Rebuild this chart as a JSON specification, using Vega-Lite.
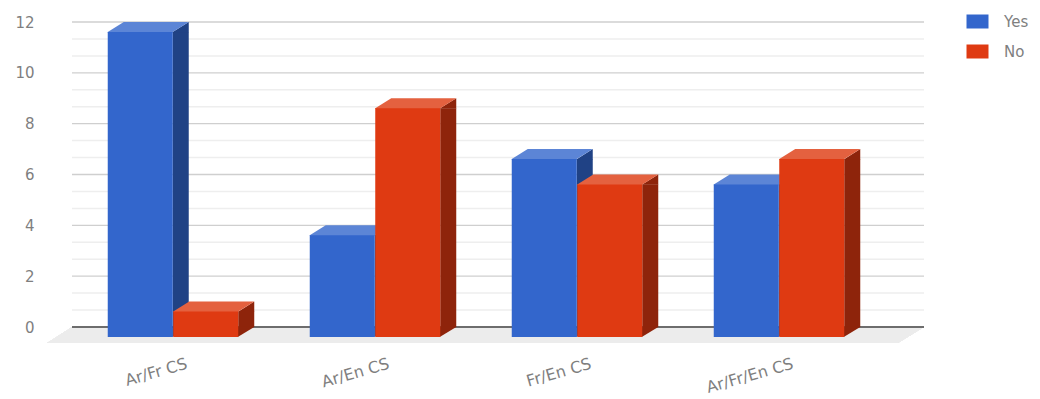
{
  "$schema": "https://vega.github.io/schema/vega-lite/v6.json",
  "autosize": "none",
  "padding": {"left": 72, "top": 22, "right": 116, "bottom": 72},
  "width": 852,
  "height": 305,
  "background": "white",
  "config": {"view": {"stroke": null}, "font": "DejaVu Sans"},
  "datasets": {
    "answers": [
      {"group": "Ar/Fr CS", "answer": "Yes", "count": 12},
      {"group": "Ar/Fr CS", "answer": "No", "count": 1},
      {"group": "Ar/En CS", "answer": "Yes", "count": 4},
      {"group": "Ar/En CS", "answer": "No", "count": 9},
      {"group": "Fr/En CS", "answer": "Yes", "count": 7},
      {"group": "Fr/En CS", "answer": "No", "count": 6},
      {"group": "Ar/Fr/En CS", "answer": "Yes", "count": 6},
      {"group": "Ar/Fr/En CS", "answer": "No", "count": 7}
    ],
    "majorLevels": [
      {"level": 2}, {"level": 4}, {"level": 6}, {"level": 8}, {"level": 10}, {"level": 12}
    ],
    "minorLevels": [
      {"level": 0.667}, {"level": 1.333}, {"level": 2.667}, {"level": 3.333},
      {"level": 4.667}, {"level": 5.333}, {"level": 6.667}, {"level": 7.333},
      {"level": 8.667}, {"level": 9.333}, {"level": 10.667}, {"level": 11.333}
    ]
  },
  "data": {"name": "answers"},
  "resolve": {"scale": {"xOffset": "independent"}},
  "layer": [
    {
      "description": "floor plane and value axis",
      "mark": {"type": "point", "filled": true, "opacity": 1, "size": 4, "strokeWidth": 0, "color": "#ececec",
        "shape": "M-426,0L426,0L400,16L-451,16Z"},
      "encoding": {
        "y": {
          "datum": 0,
          "type": "quantitative",
          "title": null,
          "scale": {"domain": [0, 12], "nice": false},
          "axis": {
            "title": null,
            "values": [0, 2, 4, 6, 8, 10, 12],
            "domain": false,
            "ticks": false,
            "grid": false,
            "labelPadding": 38,
            "labelFontSize": 15,
            "labelColor": "#7f7f7f"
          }
        }
      }
    },
    {
      "description": "lighter gridlines between the labelled levels",
      "data": {"name": "minorLevels"},
      "mark": {"type": "rule", "color": "#eeeeee", "strokeWidth": 1.5},
      "encoding": {"y": {"field": "level", "type": "quantitative", "title": null}}
    },
    {
      "description": "gridlines at the labelled levels",
      "data": {"name": "majorLevels"},
      "mark": {"type": "rule", "color": "#cfcfcf", "strokeWidth": 1.3},
      "encoding": {"y": {"field": "level", "type": "quantitative", "title": null}}
    },
    {
      "mark": {"type": "rule", "color": "#6e6e6e", "strokeWidth": 1.5},
      "encoding": {"y": {"datum": 0, "type": "quantitative", "title": null}}
    },
    {
      "description": "side face: the rectangular middle of each parallelogram",
      "mark": {"type": "bar", "width": 16, "yOffset": 10, "y2Offset": 0},
      "encoding": {
        "x": {
          "field": "group",
          "type": "nominal",
          "sort": null,
          "title": null,
          "scale": {"range": [0, 808], "paddingInner": 0.3515, "paddingOuter": 0.1757},
          "axis": {
            "title": null,
            "domain": false,
            "ticks": false,
            "grid": false,
            "labelAngle": -16,
            "labelAlign": "right",
            "labelBaseline": "middle",
            "labelOffset": 14,
            "labelPadding": 36,
            "labelFontSize": 16,
            "labelColor": "#7f7f7f"
          }
        },
        "xOffset": {"field": "answer", "type": "nominal", "sort": ["Yes", "No"], "scale": {"range": [40.5, 171.5]}},
        "y": {"field": "count", "type": "quantitative", "title": null},
        "y2": {"datum": 0},
        "fill": {"condition": {"test": "datum.answer === 'Yes'", "value": "#204285"}, "value": "#8e240b"}
      }
    },
    {
      "description": "side face: upper triangle",
      "mark": {"type": "point", "filled": true, "opacity": 1, "size": 4, "strokeWidth": 0,
        "shape": "M32,10.3L48.5,0L48.5,10.3Z"},
      "encoding": {
        "x": {"field": "group", "type": "nominal", "sort": null, "title": null},
        "xOffset": {"field": "answer", "type": "nominal", "sort": ["Yes", "No"]},
        "y": {"field": "count", "type": "quantitative", "title": null},
        "fill": {"condition": {"test": "datum.answer === 'Yes'", "value": "#204285"}, "value": "#8e240b"}
      }
    },
    {
      "description": "side face: lower triangle",
      "mark": {"type": "point", "filled": true, "opacity": 1, "size": 4, "strokeWidth": 0,
        "shape": "M32,-0.3L48.5,-0.3L48.5,0L32,10Z"},
      "encoding": {
        "x": {"field": "group", "type": "nominal", "sort": null, "title": null},
        "xOffset": {"field": "answer", "type": "nominal", "sort": ["Yes", "No"]},
        "y": {"datum": 0, "type": "quantitative", "title": null},
        "fill": {"condition": {"test": "datum.answer === 'Yes'", "value": "#204285"}, "value": "#8e240b"}
      }
    },
    {
      "description": "top face, running slightly under the front face to close the seam",
      "mark": {"type": "point", "filled": true, "opacity": 1, "size": 4, "strokeWidth": 0,
        "shape": "M-32.5,10.7L32.5,10.7L32.5,10L48.5,0L-16.5,0L-32.5,10Z"},
      "encoding": {
        "x": {"field": "group", "type": "nominal", "sort": null, "title": null},
        "xOffset": {"field": "answer", "type": "nominal", "sort": ["Yes", "No"]},
        "y": {"field": "count", "type": "quantitative", "title": null},
        "fill": {"condition": {"test": "datum.answer === 'Yes'", "value": "#5c85d6"}, "value": "#e4613f"}
      }
    },
    {
      "description": "front face, which also carries the legend",
      "mark": {"type": "bar", "width": 65, "yOffset": 10, "y2Offset": 10},
      "encoding": {
        "x": {"field": "group", "type": "nominal", "sort": null, "title": null},
        "xOffset": {"field": "answer", "type": "nominal", "sort": ["Yes", "No"]},
        "y": {"field": "count", "type": "quantitative", "title": null},
        "y2": {"datum": 0},
        "fill": {
          "field": "answer",
          "type": "nominal",
          "scale": {"domain": ["Yes", "No"], "range": ["#3366cc", "#df3a12"]},
          "legend": {
            "title": null,
            "orient": "none",
            "legendX": 887,
            "legendY": -8,
            "padding": 0,
            "symbolType": "M0,-7H22V7H0Z",
            "symbolSize": 4,
            "symbolStrokeWidth": 0,
            "symbolOpacity": 1,
            "labelFontSize": 15,
            "labelColor": "#7f7f7f",
            "labelOffset": 30,
            "rowPadding": 14
          }
        }
      }
    }
  ]
}
